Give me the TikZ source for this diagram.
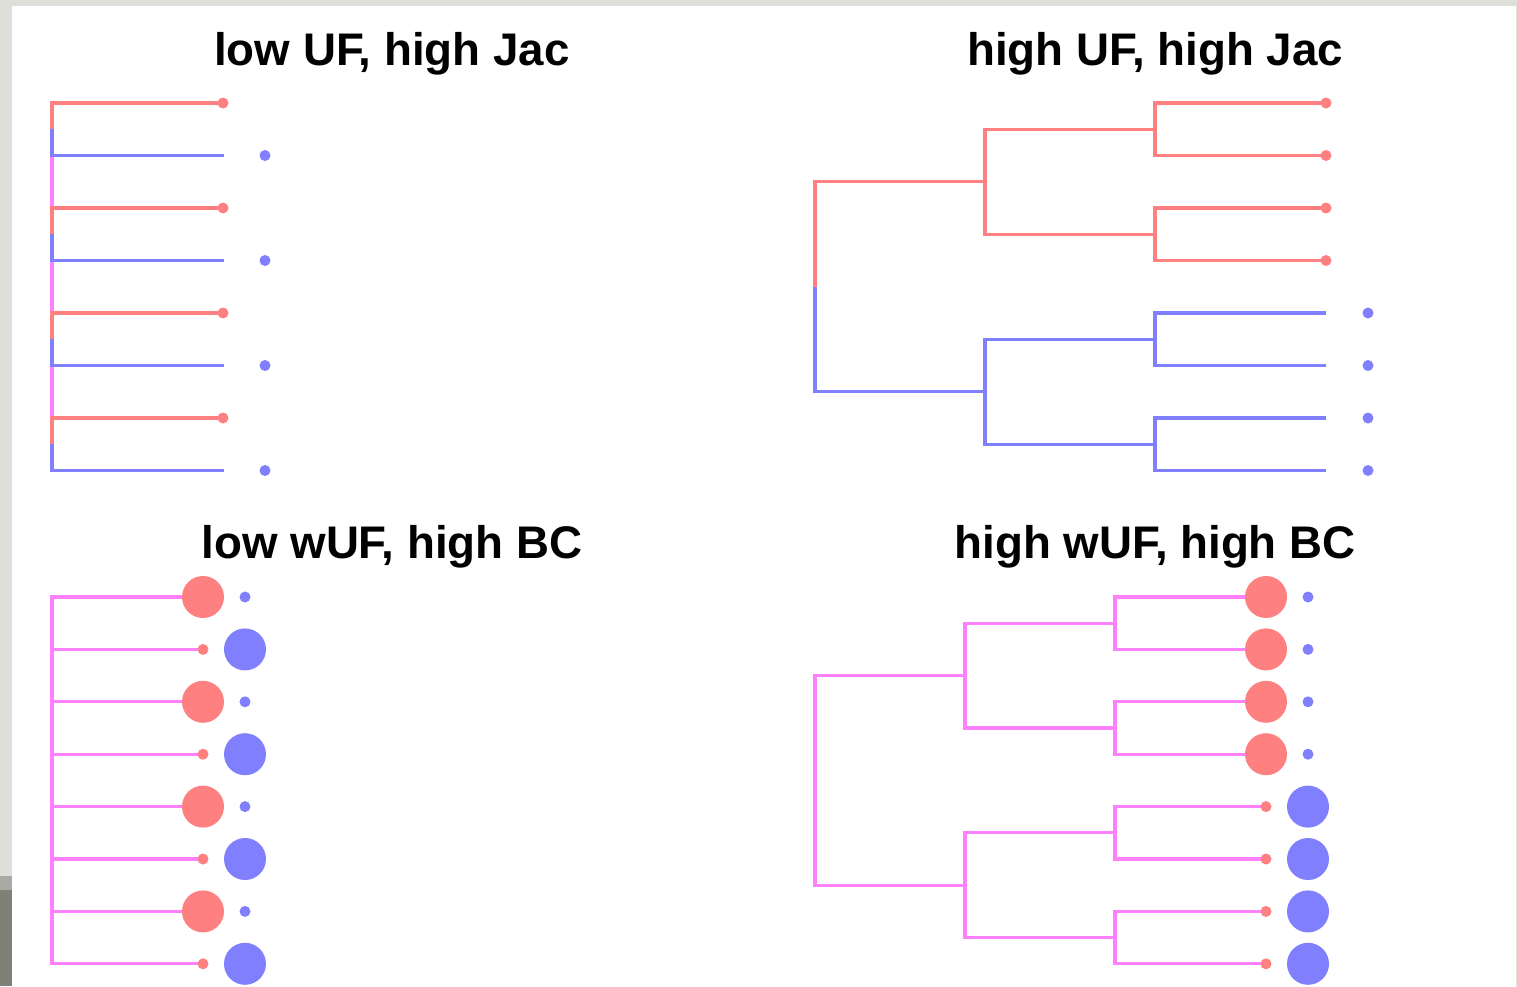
\documentclass[tikz,border=0pt]{standalone}
\usepackage{fontspec}
\setmainfont{Liberation Sans}
\definecolor{tipred}{RGB}{255,128,128}
\definecolor{tipblue}{RGB}{128,128,255}
\definecolor{mixpink}{RGB}{255,128,255}
\definecolor{framegray}{RGB}{223,223,218}
\definecolor{midgray}{RGB}{170,170,165}
\definecolor{darkgray}{RGB}{128,128,120}
\tikzset{
  branch/.style={line width=3.2pt, line join=miter},
  redbranch/.style={branch, draw=tipred},
  bluebranch/.style={branch, draw=tipblue},
  pinkbranch/.style={branch, draw=mixpink},
  smalldot/.style={circle, inner sep=0pt, minimum size=11pt, draw=none},
  bigdot/.style={circle, inner sep=0pt, minimum size=42pt, draw=none},
  paneltitle/.style={font=\bfseries\fontsize{45.7}{55}\selectfont, anchor=base, inner sep=0pt}
}
\begin{document}
\begin{tikzpicture}[x=1pt, y=-1pt]
  % canvas and window frame
  \useasboundingbox (0,0) rectangle (1517,986);
  \fill[white] (0,0) rectangle (1517,986);
  \fill[framegray] (0,0) rectangle (12,986);
  \fill[framegray] (0,0) rectangle (1517,6);
  \fill[midgray] (0,876) rectangle (12,890);
  \fill[darkgray] (0,890) rectangle (12,986);
  \draw[framegray, line width=1pt] (1516.5,6) -- (1516.5,986);

  % panel titles
  \node[paneltitle] (t1) at (392,65) {low UF, high Jac};
  \node[paneltitle] (t2) at (1155,65) {high UF, high Jac};
  \node[paneltitle] (t3) at (392,558) {low wUF, high BC};
  \node[paneltitle] (t4) at (1155,558) {high wUF, high BC};

  % ---------- low UF, high Jac: star tree ----------
  \foreach \k in {0,...,3} {
    \pgfmathsetmacro\yr{103+105*\k}
    \pgfmathsetmacro\yb{\yr+52.5}
    \coordinate (tlpair\k) at (52,{\yr+26.25});
    \coordinate (tlred\k) at (223,\yr);
    \coordinate (tlbluetip\k) at (224,\yb);
    \coordinate (tlblue\k) at (265,\yb);
  }
  \draw[pinkbranch] (tlpair0) -- (tlpair3);
  \foreach \k in {0,...,3} {
    \draw[redbranch] (tlpair\k) |- (tlred\k);
    \draw[bluebranch] (tlpair\k) |- (tlbluetip\k);
    \node[smalldot, fill=tipred] (tlreddot\k) at (tlred\k) {};
    \node[smalldot, fill=tipblue] (tlbluedot\k) at (tlblue\k) {};
  }

  % ---------- high UF, high Jac: balanced tree ----------
  \coordinate (trroot) at (815,287);
  \coordinate (trR) at (985,181.75);
  \coordinate (trB) at (985,391.75);
  \coordinate (trR1) at (1155,129.25);
  \coordinate (trR2) at (1155,234.25);
  \coordinate (trB1) at (1155,339.25);
  \coordinate (trB2) at (1155,444.25);
  \foreach \k in {0,...,3} {
    \coordinate (trred\k) at (1326,{103+52.5*\k});
    \coordinate (trbluetip\k) at (1326,{313+52.5*\k});
    \coordinate (trblue\k) at (1368,{313+52.5*\k});
  }
  \draw[redbranch] (trroot) |- (trR);
  \draw[bluebranch] (trroot) |- (trB);
  \draw[redbranch] (trR) |- (trR1);
  \draw[redbranch] (trR) |- (trR2);
  \draw[bluebranch] (trB) |- (trB1);
  \draw[bluebranch] (trB) |- (trB2);
  \draw[redbranch] (trR1) |- (trred0);
  \draw[redbranch] (trR1) |- (trred1);
  \draw[redbranch] (trR2) |- (trred2);
  \draw[redbranch] (trR2) |- (trred3);
  \draw[bluebranch] (trB1) |- (trbluetip0);
  \draw[bluebranch] (trB1) |- (trbluetip1);
  \draw[bluebranch] (trB2) |- (trbluetip2);
  \draw[bluebranch] (trB2) |- (trbluetip3);
  \foreach \k in {0,...,3} {
    \node[smalldot, fill=tipred] (trreddot\k) at (trred\k) {};
    \node[smalldot, fill=tipblue] (trbluedot\k) at (trblue\k) {};
  }

  % ---------- low wUF, high BC: star tree with abundance circles ----------
  \coordinate (blroot) at (52,780.4);
  \foreach \k in {0,...,7} {
    \coordinate (bltip\k) at (203,{597+52.4*\k});
    \coordinate (blsec\k) at (245,{597+52.4*\k});
    \draw[pinkbranch] (blroot) |- (bltip\k);
  }
  \foreach \k in {0,2,4,6} {
    \node[bigdot, fill=tipred] (blred\k) at (bltip\k) {};
    \node[smalldot, fill=tipblue] (blblue\k) at (blsec\k) {};
  }
  \foreach \k in {1,3,5,7} {
    \node[smalldot, fill=tipred] (blred\k) at (bltip\k) {};
    \node[bigdot, fill=tipblue] (blblue\k) at (blsec\k) {};
  }

  % ---------- high wUF, high BC: balanced tree with abundance circles ----------
  \coordinate (brroot) at (815,780.4);
  \coordinate (brA) at (965,675.6);
  \coordinate (brB) at (965,885.2);
  \coordinate (brA1) at (1115,623.2);
  \coordinate (brA2) at (1115,728);
  \coordinate (brB1) at (1115,832.8);
  \coordinate (brB2) at (1115,937.6);
  \foreach \k in {0,...,7} {
    \coordinate (brtip\k) at (1266,{597+52.4*\k});
    \coordinate (brsec\k) at (1308,{597+52.4*\k});
  }
  \draw[pinkbranch] (brroot) |- (brA);
  \draw[pinkbranch] (brroot) |- (brB);
  \draw[pinkbranch] (brA) |- (brA1);
  \draw[pinkbranch] (brA) |- (brA2);
  \draw[pinkbranch] (brB) |- (brB1);
  \draw[pinkbranch] (brB) |- (brB2);
  \draw[pinkbranch] (brA1) |- (brtip0);
  \draw[pinkbranch] (brA1) |- (brtip1);
  \draw[pinkbranch] (brA2) |- (brtip2);
  \draw[pinkbranch] (brA2) |- (brtip3);
  \draw[pinkbranch] (brB1) |- (brtip4);
  \draw[pinkbranch] (brB1) |- (brtip5);
  \draw[pinkbranch] (brB2) |- (brtip6);
  \draw[pinkbranch] (brB2) |- (brtip7);
  \foreach \k in {0,...,3} {
    \node[bigdot, fill=tipred] (brred\k) at (brtip\k) {};
    \node[smalldot, fill=tipblue] (brblue\k) at (brsec\k) {};
  }
  \foreach \k in {4,...,7} {
    \node[smalldot, fill=tipred] (brred\k) at (brtip\k) {};
    \node[bigdot, fill=tipblue] (brblue\k) at (brsec\k) {};
  }
\end{tikzpicture}
\end{document}
